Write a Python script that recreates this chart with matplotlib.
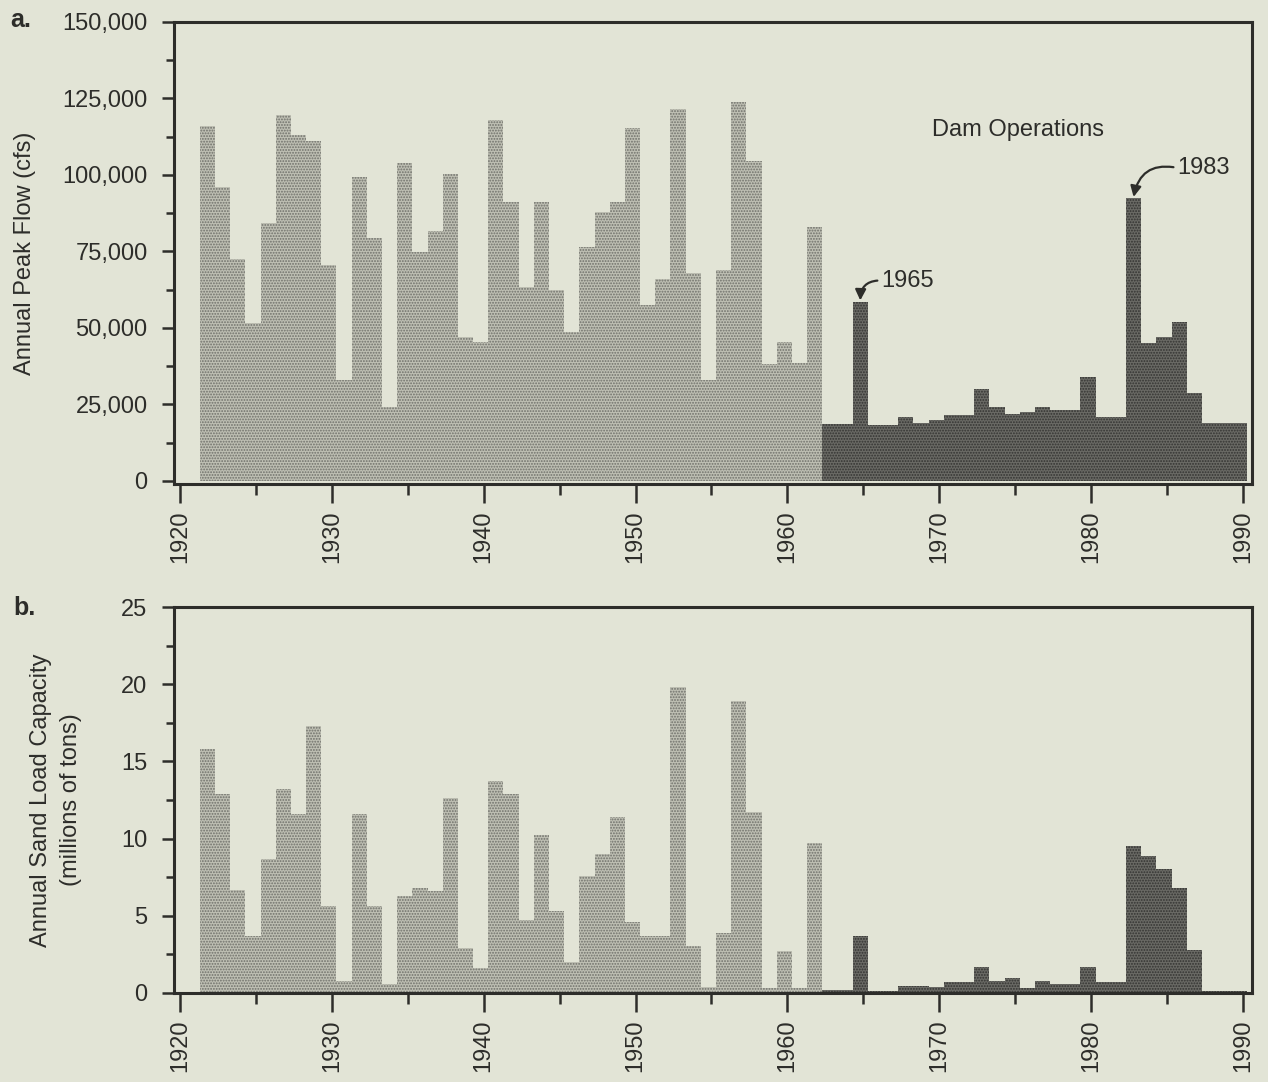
import numpy as np
import matplotlib.pyplot as plt
from matplotlib.ticker import MultipleLocator, FuncFormatter

# ─── Data ───────────────────────────────────────────────────────────────────
years = np.arange(1922, 1991)
dam_year = 1963  # bars from this year on are drawn dark (dam operations)

peak_flow = [
    116000, 96000, 72500, 51600, 84200, 119600, 113000, 111000, 70600, 33000,   # 1922-31
    99400, 79400, 24300, 103800, 74900, 81700, 100300, 47200, 45500, 118000,    # 1932-41
    91000, 63400, 91000, 62400, 48800, 76600, 88000, 91000, 115400, 57500,      # 1942-51
    66000, 121600, 68000, 33000, 69000, 123900, 104400, 38200, 45500, 38700,    # 1952-61
    83100, 18500, 18500, 58600, 18300, 18300, 21000, 19000, 20000, 21600,       # 1962-71
    21600, 30000, 24300, 22000, 22500, 24300, 23200, 23200, 34000, 21000,       # 1972-81
    21000, 92400, 45000, 47200, 52000, 28700, 19000, 19000, 19000,              # 1982-90
]

sand_load = [
    15.8, 12.9, 6.7, 3.7, 8.7, 13.2, 11.6, 17.3, 5.6, 0.8,      # 1922-31
    11.6, 5.6, 0.6, 6.3, 6.8, 6.6, 12.6, 2.9, 1.6, 13.7,        # 1932-41
    12.9, 4.7, 10.2, 5.3, 2.0, 7.6, 9.0, 11.4, 4.6, 3.7,        # 1942-51
    3.7, 19.8, 3.05, 0.4, 3.9, 18.9, 11.7, 0.3, 2.7, 0.3,       # 1952-61
    9.7, 0.2, 0.2, 3.7, 0.1, 0.1, 0.45, 0.45, 0.4, 0.7,         # 1962-71
    0.7, 1.7, 0.75, 1.0, 0.35, 0.8, 0.6, 0.6, 1.7, 0.7,         # 1972-81
    0.7, 9.5, 8.85, 8.0, 6.8, 2.8, 0.15, 0.15, 0.15,            # 1982-90
]

# ─── Style ──────────────────────────────────────────────────────────────────
bg = "#e2e4d6"
ink = "#2d2d2a"
light_face, light_dots = "#bebfb3", "#6f706a"
dark_face, dark_dots = "#6a6a65", "#333331"

plt.rcParams["font.family"] = ["Liberation Sans", "DejaVu Sans"]
plt.rcParams["hatch.linewidth"] = 0.9
plt.rcParams["text.color"] = ink
fs = 17

fig = plt.figure(figsize=(12.68, 10.82), dpi=100, facecolor=bg)
ax1 = fig.add_axes([0.1372, 0.5527, 0.8502, 0.4270])
ax2 = fig.add_axes([0.1372, 0.0823, 0.8502, 0.3567])

pre = years < dam_year
post = ~pre


def draw_bars(ax, vals):
    vals = np.asarray(vals, dtype=float)
    ax.bar(years[pre] - 0.2, vals[pre], width=1.0, color=light_face,
           edgecolor=light_dots, linewidth=0, hatch="......")
    ax.bar(years[post] - 0.2, vals[post], width=1.0, color=dark_face,
           edgecolor=dark_dots, linewidth=0, hatch="......")


def style_axes(ax):
    ax.set_facecolor(bg)
    for sp in ax.spines.values():
        sp.set_linewidth(2.2)
        sp.set_color(ink)
    ax.set_xlim(1919.6, 1990.6)
    ax.xaxis.set_major_locator(MultipleLocator(10))
    ax.xaxis.set_minor_locator(MultipleLocator(5))
    ax.tick_params(axis="x", which="major", direction="out", length=14, width=1.8,
                   color=ink, labelcolor=ink, labelsize=fs, labelrotation=90, pad=5)
    ax.tick_params(axis="x", which="minor", direction="out", length=8, width=1.8, color=ink)
    ax.tick_params(axis="y", which="major", direction="out", length=9, width=1.8,
                   color=ink, labelcolor=ink, labelsize=fs, pad=10)
    ax.tick_params(axis="y", which="minor", direction="out", length=6, width=1.8, color=ink)


# --- a. Annual peak flow ---
draw_bars(ax1, peak_flow)
style_axes(ax1)
ax1.set_ylim(-1000, 150000)
ax1.yaxis.set_major_locator(MultipleLocator(25000))
ax1.yaxis.set_minor_locator(MultipleLocator(12500))
ax1.yaxis.set_major_formatter(FuncFormatter(lambda v, p: f"{v:,.0f}"))
ax1.set_ylabel("Annual Peak Flow (cfs)", fontsize=fs, color=ink)
ax1.yaxis.set_label_coords(-0.128, 0.5)

ax1.text(1975.2, 114700, "Dam Operations", fontsize=fs, ha="center", va="center")
arrow = dict(arrowstyle="-|>", connectionstyle="arc3,rad=0.5", color=ink,
             lw=1.6, shrinkA=1, shrinkB=0, mutation_scale=16, relpos=(0, 0.5))
ax1.annotate("1965", xy=(1964.8, 59000), xytext=(1966.2, 65500),
             fontsize=fs, ha="left", va="center", arrowprops=arrow)
ax1.annotate("1983", xy=(1982.8, 92800), xytext=(1985.7, 102300),
             fontsize=fs, ha="left", va="center", arrowprops=arrow)

# --- b. Annual sand load capacity ---
draw_bars(ax2, sand_load)
style_axes(ax2)
ax2.set_ylim(0, 25)
ax2.yaxis.set_major_locator(MultipleLocator(5))
ax2.yaxis.set_minor_locator(MultipleLocator(2.5))
ax2.set_ylabel("Annual Sand Load Capacity\n(millions of tons)", fontsize=fs,
               color=ink, linespacing=1.5)
ax2.yaxis.set_label_coords(-0.085, 0.5)

fig.text(10 / 1268, 1 - 8 / 1082, "a.", fontsize=fs + 1, fontweight="bold", va="top", ha="left")
fig.text(13 / 1268, 1 - 596 / 1082, "b.", fontsize=fs + 1, fontweight="bold", va="top", ha="left")

fig.savefig("out.png", dpi=100, facecolor=bg)
